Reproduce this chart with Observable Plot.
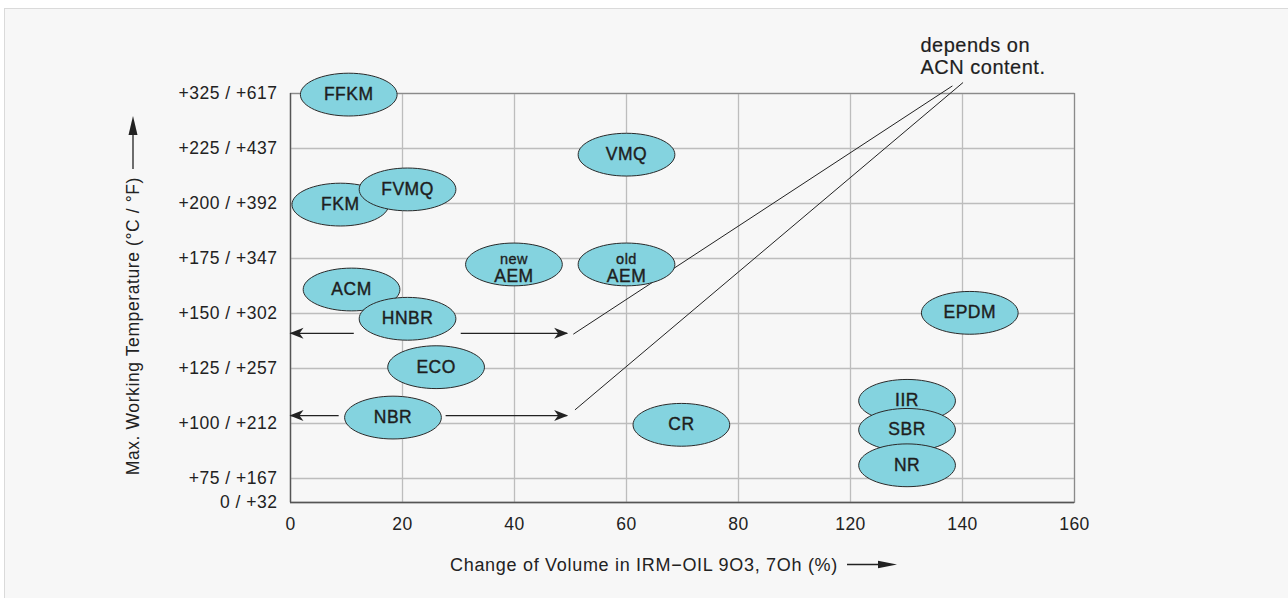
<!DOCTYPE html>
<html>
<head>
<meta charset="utf-8">
<script src="https://cdn.jsdelivr.net/npm/d3@7"></script>
<script src="https://cdn.jsdelivr.net/npm/@observablehq/plot@0.6"></script>
<style>
  html, body { margin: 0; padding: 0; background: #ffffff; }
  #bg { position: absolute; left: 4px; top: 8px; width: 1290px; height: 600px; background: #f7f7f7; border-top: 1.5px solid #dadada; border-left: 1.5px solid #dadada; }
  #chart { position: absolute; left: 0; top: 0; }
</style>
</head>
<body>
<div id="bg"></div>
<div id="chart"></div>
<script>
// ---- data ----
const materials = ["FFKM","FKM","FVMQ","VMQ","AEM","AEM","ACM","HNBR","ECO","NBR","CR","EPDM","IIR","SBR","NR"];
const prefixes  = ["","","","","new","old","","","","","","","","",""];
const volume    = [10.4, 8.9, 20.9, 60.0, 39.9, 60.0, 10.9, 20.9, 26.0, 18.3, 69.8, 141.3, 130.1, 130.1, 130.1];
const maxTemp   = [323, 199.5, 206.4, 222.2, 172.3, 172.3, 160.9, 147.6, 125.6, 102.7, 99.4, 150.3, 110.3, 97.1, 81.0];

const xTicks = [0, 20, 40, 60, 80, 120, 140, 160];
const yTicks = [0, 75, 100, 125, 150, 175, 200, 225, 325];
const yTickLabels = ["0 / +32", "+75 / +167", "+100 / +212", "+125 / +257", "+150 / +302", "+175 / +347", "+200 / +392", "+225 / +437", "+325 / +617"];

// range arrows (HNBR / NBR rows)
const arrowTail = [11.3, 30.4, 8.6, 27.7];
const arrowTip  = [0, 49.4, 0, 49.4];
const arrowTemp = [141.0, 141.0, 103.6, 103.6];

// leader lines to the note
const leadX1 = [50.5, 50.8];
const leadY1 = [140.6, 106.2];
const leadX2 = [138.2, 140.1];
const leadY2 = [338.8, 345.0];

const noteText = ["depends on\nACN content."];
const noteX = [132.5];
const noteY = [393];

const xTitle = "Change of Volume in IRM\u2212OIL 9O3, 7Oh (%)";
const yTitle = "Max. Working Temperature (\u00b0C / \u00b0F)";

// ---- build ----
const W = 1288, H = 598;
const mL = 290, mR = 214, mT = 93, mB = 96;
const plotW = W - mL - mR, plotH = H - mT - mB;
const step = plotH / (7 + 24/55);
const FONT = "'Liberation Sans', Arial, sans-serif";

const points = materials.map((m, i) => ({m, p: prefixes[i], x: volume[i], y: maxTemp[i]}));
const arrows = arrowTail.map((t, i) => ({x1: t, x2: arrowTip[i], y: arrowTemp[i]}));
const leads = leadX1.map((x, i) => ({x1: x, y1: leadY1[i], x2: leadX2[i], y2: leadY2[i]}));
const notes = noteText.map((t, i) => ({t, x: noteX[i], y: noteY[i]}));

const ellipse = {
  draw(ctx, size) {
    const ry = Math.sqrt(size / Math.PI), rx = ry * 2.26, k = 0.5523;
    ctx.moveTo(rx, 0);
    ctx.bezierCurveTo(rx, k * ry, k * rx, ry, 0, ry);
    ctx.bezierCurveTo(-k * rx, ry, -rx, k * ry, -rx, 0);
    ctx.bezierCurveTo(-rx, -k * ry, -k * rx, -ry, 0, -ry);
    ctx.bezierCurveTo(k * rx, -ry, rx, -k * ry, rx, 0);
    ctx.closePath();
  }
};

function arrowHead(color) {
  const m = d3.create("svg:marker")
    .attr("viewBox", "-15 -7 17 14")
    .attr("markerWidth", 17).attr("markerHeight", 14)
    .attr("markerUnits", "userSpaceOnUse")
    .attr("refX", 0).attr("refY", 0)
    .attr("orient", "auto");
  m.append("path").attr("d", "M1,0L-13,-5.5L-9,0L-13,5.5Z").attr("fill", color).attr("stroke", "none");
  return m.node();
}

const chart = Plot.plot({
  width: W, height: H,
  marginLeft: mL, marginRight: mR, marginTop: mT, marginBottom: mB,
  style: {background: "transparent", fontFamily: FONT, fontSize: "17.5px", color: "#222", letterSpacing: "0.5px"},
  x: {type: "linear", domain: [0, 80, 120, 160], range: [mL, mL + plotW * 4/7, mL + plotW * 5/7, mL + plotW]},
  y: {type: "linear", domain: [0, 75, 225, 325], range: [H - mB, H - mB - step * 24/55, mT + step, mT]},
  marks: [
    Plot.gridX(xTicks, {stroke: "#bdbdbd", strokeOpacity: 1, strokeWidth: 1.3}),
    Plot.gridY(yTicks, {stroke: "#bdbdbd", strokeOpacity: 1, strokeWidth: 1.3}),
    Plot.frame({stroke: "#8a8a8a", strokeWidth: 1.2}),
    Plot.ruleX([0], {stroke: "#555", strokeWidth: 1.3}),
    Plot.ruleY([0], {stroke: "#555", strokeWidth: 1.3}),
    Plot.axisX(xTicks, {tickSize: 0, tickPadding: 15, label: null, fill: "#222"}),
    Plot.axisY(yTicks, {tickSize: 0, tickPadding: 13, label: null, fill: "#222",
      tickFormat: d => yTickLabels[yTicks.indexOf(d)]}),
    Plot.link(leads, {x1: "x1", y1: "y1", x2: "x2", y2: "y2", stroke: "#222", strokeWidth: 1}),
    Plot.link(arrows, {x1: "x1", y1: "y", x2: "x2", y2: "y", stroke: "#222", strokeWidth: 1.3, markerEnd: arrowHead}),
    Plot.dot(points, {x: "x", y: "y", r: 21.4, symbol: ellipse, fill: "#84d3df", stroke: "#2a2a2a", strokeWidth: 1}),
    Plot.text(points, {filter: d => !d.p, x: "x", y: "y", text: "m", fontSize: 17.5, fill: "#1e1e1e", stroke: "#1e1e1e", strokeWidth: 0.4}),
    Plot.text(points, {filter: d => d.p, x: "x", y: "y", text: "m", dy: 12, fontSize: 17.5, fill: "#1e1e1e", stroke: "#1e1e1e", strokeWidth: 0.4}),
    Plot.text(points, {filter: d => d.p, x: "x", y: "y", text: "p", dy: -5, fontSize: 14.5, fill: "#1e1e1e", stroke: "#1e1e1e", strokeWidth: 0.35}),
    Plot.text(notes, {x: "x", y: "y", text: "t", textAnchor: "start", lineAnchor: "middle", lineHeight: 1.1, fontSize: 20, fill: "#1e1e1e", stroke: "#1e1e1e", strokeWidth: 0.2})
  ]
});

// axis titles with arrows
const svg = d3.select(chart);
const gx = svg.append("g").attr("font-family", FONT).attr("font-size", 18).attr("letter-spacing", "0.7px").attr("fill", "#222");
const xEnd = mL + plotW * 0.699, xY = H - mB + 62.5;
gx.append("text").attr("x", xEnd).attr("y", xY + 6).attr("text-anchor", "end").text(xTitle);
gx.append("line").attr("x1", xEnd + 9).attr("x2", xEnd + 44).attr("y1", xY).attr("y2", xY).attr("stroke", "#222").attr("stroke-width", 1.3);
gx.append("path").attr("d", `M${xEnd + 59},${xY}L${xEnd + 40},${xY - 3.8}L${xEnd + 40},${xY + 3.8}Z`).attr("fill", "#222");

const yX = 133, yEnd = mT + 84;
const gy = svg.append("g").attr("font-family", FONT).attr("font-size", 17.5).attr("letter-spacing", "0.6px").attr("fill", "#222");
gy.append("text").attr("transform", `translate(${yX + 6},${yEnd}) rotate(-90)`).attr("text-anchor", "end").text(yTitle);
gy.append("line").attr("x1", yX).attr("x2", yX).attr("y1", yEnd - 8).attr("y2", yEnd - 45).attr("stroke", "#222").attr("stroke-width", 1.3);
gy.append("path").attr("d", `M${yX},${yEnd - 61}L${yX - 4.5},${yEnd - 42}L${yX + 4.5},${yEnd - 42}Z`).attr("fill", "#222");

document.getElementById("chart").appendChild(chart);
</script>
</body>
</html>
